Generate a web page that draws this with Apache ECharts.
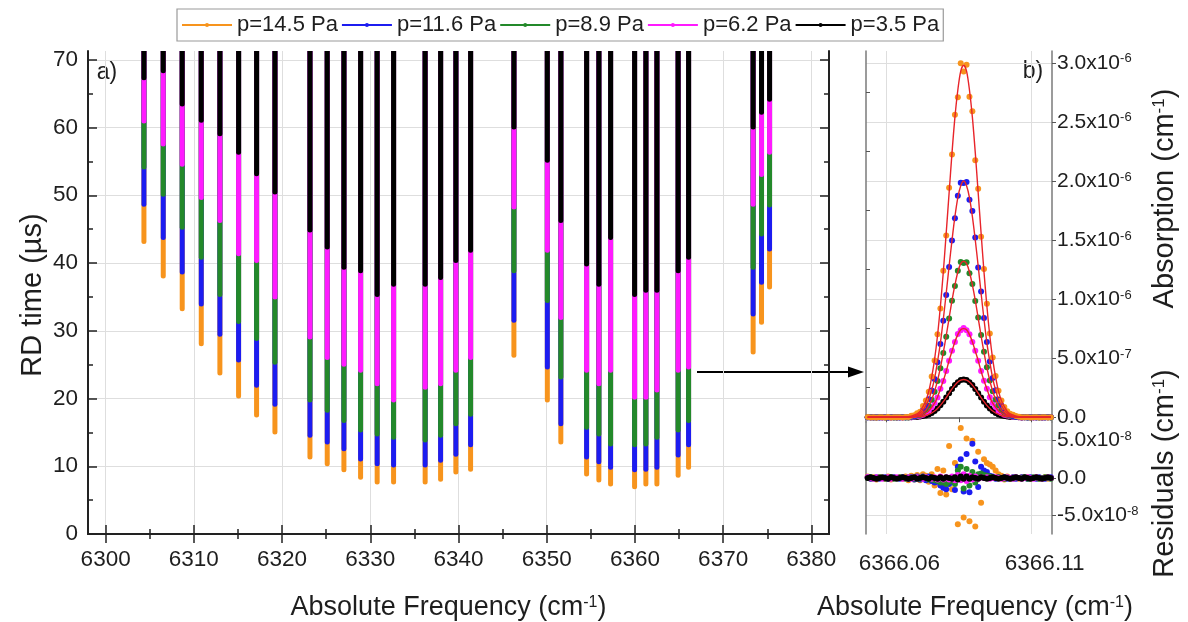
<!DOCTYPE html>
<html><head><meta charset="utf-8">
<script src="https://cdn.jsdelivr.net/npm/echarts@6/dist/echarts.min.js"></script>
<style>html,body{margin:0;padding:0;background:#fff}#c{width:1188px;height:622px}</style>
</head><body><div id="c"></div>
<script>
// ---------- DATA ----------
const pressures = ['p=14.5 Pa', 'p=11.6 Pa', 'p=8.9 Pa', 'p=6.2 Pa', 'p=3.5 Pa'];
const colors = ['#f7941d', '#1c1cf0', '#23892a', '#ff1aff', '#000000'];

// panel a) : line positions (cm-1) and the lowest ring-down time reached at each pressure (us)
const colFreqs = [6304.34, 6306.53, 6308.68, 6310.84, 6312.95, 6315.07, 6317.11, 6319.19, 6323.16, 6325.12, 6327.01, 6328.90, 6330.78, 6332.64, 6336.22, 6337.97, 6339.70, 6341.37, 6346.28, 6350.07, 6351.60, 6354.52, 6355.91, 6357.24, 6359.96, 6361.24, 6362.49, 6364.90, 6366.08, 6373.40, 6374.35, 6375.26];
const minRD_145 = [42.8, 37.7, 32.9, 27.7, 23.4, 20.0, 17.2, 14.7, 11.0, 10.0, 9.1, 8.0, 7.3, 7.3, 7.3, 7.7, 8.8, 9.2, 26.0, 19.4, 13.2, 8.5, 7.6, 7.0, 6.6, 7.0, 7.0, 8.3, 9.5, 26.5, 30.9, 36.1];
const minRD_116 = [48.3, 43.4, 38.3, 33.6, 29.1, 25.3, 21.6, 18.8, 14.2, 13.2, 12.2, 10.7, 10.0, 9.8, 9.8, 10.5, 11.4, 12.8, 31.2, 24.3, 15.9, 11.0, 10.3, 9.5, 9.1, 9.2, 9.5, 11.3, 12.8, 32.1, 36.8, 41.7];
const minRD_89 = [53.8, 49.8, 44.9, 40.5, 35.0, 31.0, 28.5, 25.0, 19.4, 17.9, 16.4, 15.0, 14.4, 13.9, 13.5, 14.2, 15.9, 17.3, 38.5, 34.1, 22.8, 15.4, 14.4, 12.9, 12.8, 12.9, 13.9, 15.0, 16.4, 39.0, 43.9, 48.2];
const minRD_62 = [60.6, 57.2, 54.2, 49.3, 45.9, 41.0, 40.0, 34.6, 28.7, 25.7, 24.7, 23.8, 21.8, 19.4, 21.3, 21.8, 23.8, 25.7, 47.9, 41.5, 31.6, 23.8, 21.8, 23.8, 19.8, 19.8, 20.9, 23.8, 24.3, 48.3, 52.7, 56.0];
const minRD_35 = [67.0, 68.0, 63.1, 60.7, 58.7, 56.0, 52.8, 50.1, 44.5, 42.0, 39.0, 38.5, 35.0, 36.5, 36.5, 37.5, 40.0, 41.5, 59.7, 54.8, 45.9, 39.5, 36.5, 43.4, 35.0, 35.6, 35.6, 38.5, 40.5, 59.7, 61.9, 63.8];
const xTicksMain = [6300, 6310, 6320, 6330, 6340, 6350, 6360, 6370, 6380];
const xTicksMinor = [6305, 6315, 6325, 6335, 6345, 6355, 6365, 6375];
const yTicksMain = [0, 10, 20, 30, 40, 50, 60, 70];
const yTicksMinor = [5, 15, 25, 35, 45, 55, 65];

// panel b) : absorption profile of the 6366.087 cm-1 line (fit, units 1e-6 cm-1) and residuals (units 1e-8 cm-1)
const profFreq = [6366.0536,6366.0546,6366.0556,6366.0566,6366.0576,6366.0586,6366.0596,6366.0606,6366.0616,6366.0626,6366.0636,6366.0646,6366.0656,6366.0666,6366.0676,6366.0686,6366.0696,6366.0706,6366.0716,6366.0726,6366.0736,6366.0746,6366.0756,6366.0766,6366.0776,6366.0786,6366.0796,6366.0806,6366.0816,6366.0826,6366.0836,6366.0846,6366.0856,6366.0866,6366.0876,6366.0886,6366.0896,6366.0906,6366.0916,6366.0926,6366.0936,6366.0946,6366.0956,6366.0966,6366.0976,6366.0986,6366.0996,6366.1006,6366.1016,6366.1026,6366.1036,6366.1046,6366.1056,6366.1066,6366.1076,6366.1086,6366.1096,6366.1106,6366.1116,6366.1126,6366.1136,6366.1146,6366.1156,6366.1166];
const abs_145 = [0,0,0,0,0,0,0,0,0,0,0,0,0,0,0.005,0.01,0.02,0.03,0.05,0.09,0.14,0.22,0.34,0.49,0.69,0.94,1.23,1.56,1.90,2.24,2.54,2.77,2.93,2.98,2.93,2.77,2.54,2.24,1.90,1.56,1.23,0.94,0.69,0.49,0.34,0.22,0.14,0.09,0.05,0.03,0.02,0.01,0.005,0,0,0,0,0,0,0,0,0,0,0];
const abs_116 = [0,0,0,0,0,0,0,0,0,0,0,0,0,0,0.003,0.006,0.01,0.02,0.035,0.06,0.10,0.15,0.23,0.33,0.47,0.63,0.83,1.05,1.28,1.50,1.70,1.86,1.96,2.00,1.96,1.86,1.70,1.50,1.28,1.05,0.83,0.63,0.47,0.33,0.23,0.15,0.10,0.06,0.035,0.02,0.01,0.006,0.003,0,0,0,0,0,0,0,0,0,0,0];
const abs_89 = [0,0,0,0,0,0,0,0,0,0,0,0,0,0,0.002,0.004,0.007,0.013,0.02,0.04,0.06,0.10,0.15,0.22,0.31,0.42,0.55,0.69,0.84,0.99,1.12,1.23,1.30,1.32,1.30,1.23,1.12,0.99,0.84,0.69,0.55,0.42,0.31,0.22,0.15,0.10,0.06,0.04,0.02,0.013,0.007,0.004,0.002,0,0,0,0,0,0,0,0,0,0,0];
const abs_62 = [0,0,0,0,0,0,0,0,0,0,0,0,0,0,0.001,0.002,0.004,0.008,0.013,0.022,0.036,0.056,0.085,0.12,0.17,0.24,0.31,0.39,0.48,0.56,0.64,0.70,0.74,0.75,0.74,0.70,0.64,0.56,0.48,0.39,0.31,0.24,0.17,0.12,0.085,0.056,0.036,0.022,0.013,0.008,0.004,0.002,0.001,0,0,0,0,0,0,0,0,0,0,0];
const abs_35 = [0,0,0,0,0,0,0,0,0,0,0,0,0,0,0,0.001,0.002,0.003,0.006,0.009,0.015,0.024,0.036,0.053,0.075,0.101,0.132,0.167,0.204,0.24,0.272,0.298,0.314,0.32,0.314,0.298,0.272,0.24,0.204,0.167,0.132,0.101,0.075,0.053,0.036,0.024,0.015,0.009,0.006,0.003,0.002,0.001,0,0,0,0,0,0,0,0,0,0,0,0];
const res_145 = [0.2,-0.1,0.1,-0.2,0.1,0,-0.1,0.2,-0.2,0.1,0,0.1,-0.1,0.2,-0.3,0.3,-0.2,0.4,-0.3,0.5,0.3,-0.5,0.5,-1.0,1.2,-2.0,1.0,-2.2,4.3,-1.5,2.0,-6.2,6.7,-5.3,5.3,-5.8,5.0,-6.5,3.5,-3.3,2.5,2.0,1.8,1.5,1.0,0.5,0.3,-0.2,0.2,-0.1,0.1,0,-0.1,0.1,0,0.1,-0.1,0,0.1,-0.1,0,0.1,-0.1,0];
const res_116 = [0.1,-0.1,0,0.1,-0.1,0,0.1,-0.1,0,0.1,0,-0.1,0.1,0,-0.1,0.1,-0.2,0.2,-0.2,0.2,-0.3,0.2,-0.4,-0.6,-0.5,-1.0,-1.3,-1.5,-0.8,-0.3,-1.6,1.5,2.5,-1.8,3.2,-1.9,4.6,2.2,-1.2,1.5,1.0,0.8,0.3,0.2,-0.1,0.1,0,0.1,-0.1,0,0.1,-0.1,0,0.1,0,-0.1,0.1,0,-0.1,0.1,0,-0.1,0,0.1];
const res_89 = [0,0.1,-0.1,0,0.1,0,-0.1,0,0.1,-0.1,0,0.1,0,-0.1,0.1,0,-0.1,0.1,-0.1,0.1,0.1,-0.2,-0.2,-0.3,-0.4,-0.6,-0.6,-0.8,-0.5,-0.3,-0.8,1.0,1.5,-1.4,1.2,-1.0,0.8,-0.6,0.5,0.6,0.4,0.3,0.2,0.1,0,0.1,0,-0.1,0.1,0,-0.1,0.1,0,0,0.1,-0.1,0,0.1,0,-0.1,0,0.1,0,-0.1];
const res_62 = [0.1,0,-0.1,0.1,0,-0.1,0,0.1,-0.1,0,0.1,0,-0.1,0,0.1,-0.1,0,0.1,0,-0.1,0.1,0,-0.1,0.1,-0.2,0.2,-0.2,0.1,-0.2,0.2,-0.3,0.4,-0.3,0.5,-0.4,0.3,-0.2,0.2,-0.1,0.1,0,0.1,-0.1,0,0.1,0,-0.1,0,0.1,0,-0.1,0.1,0,-0.1,0,0.1,0,-0.1,0.1,0,-0.1,0,0.1,0];
const res_35 = [0,0.1,0,-0.1,0,0.1,0,-0.1,0.1,0,-0.1,0,0.1,0,-0.1,0,0.1,-0.1,0,0.1,0,-0.1,0.1,0,-0.1,0.1,-0.1,0.1,0,-0.1,0.1,-0.2,0.2,-0.1,0.2,-0.1,0.1,0,-0.1,0.1,0,-0.1,0,0.1,0,-0.1,0,0.1,0,-0.1,0,0.1,0,-0.1,0.1,0,-0.1,0,0.1,0,-0.1,0,0.1,0];
const absTicks = [0, 0.5, 1, 1.5, 2, 2.5, 3];
const absMinorTicks = [0.25, 0.75, 1.25, 1.75, 2.25, 2.75];
const resTicks = [-5, 0, 5];
const zoomFreqTicks = [6366.06, 6366.11];
const zoomFreqTopTicks = [6366.06, 6366.085, 6366.11];

// ---------- CHART ----------
const FONT = 'Liberation Sans, Arial, Helvetica, sans-serif';
const TXT = '#1e1e1e';
const RD_MAX = 71.3;
const minSets = [minRD_145, minRD_116, minRD_89, minRD_62, minRD_35];
const absSets = [abs_145, abs_116, abs_89, abs_62, abs_35];
const resSets = [res_145, res_116, res_89, res_62, res_35];

const chart = echarts.init(document.getElementById('c'), null, {renderer: 'canvas'});

function colRender(color) {
  return function (params, api) {
    const f = api.value(0), lo = api.value(1);
    const pLo = api.coord([f, lo]);
    const pHi = api.coord([f, RD_MAX]);
    const w = 5;
    return {
      type: 'rect',
      shape: {x: pLo[0] - w / 2, y: pHi[1], width: w, height: pLo[1] - pHi[1], r: [0, 0, 2.5, 2.5]},
      style: {fill: color}
    };
  };
}

const darkLine = {lineStyle: {color: '#222', width: 2}};
const grayLine = {lineStyle: {color: '#7a7a7a', width: 1.5}};
const split = {show: true, lineStyle: {color: '#dedede', width: 1}};
const noSplit = {show: false};
const supRich = {
  b: {fontSize: 21, color: TXT, fontFamily: FONT},
  s: {fontSize: 13, color: TXT, fontFamily: FONT, verticalAlign: 'top'}
};

function leftX(pos, ticks, len, main) {
  return {
    gridIndex: 0, type: 'value', position: pos, min: 6298, max: 6382,
    axisLine: main ? darkLine : {show: false},
    axisTick: {show: true, inside: true, length: len, customValues: ticks, lineStyle: {color: '#222', width: 1.5}},
    axisLabel: (main && pos === 'bottom') ? {customValues: ticks, fontSize: 22.5, margin: 14, color: TXT, fontFamily: FONT, formatter: v => String(Math.round(v))} : {show: false},
    splitLine: (main && pos === 'bottom') ? split : noSplit
  };
}
function leftY(pos, ticks, len, main) {
  return {
    gridIndex: 0, type: 'value', position: pos, min: 0, max: RD_MAX,
    axisLine: main ? darkLine : {show: false},
    axisTick: {show: true, inside: true, length: len, customValues: ticks, lineStyle: {color: '#222', width: 1.5}},
    axisLabel: (main && pos === 'left') ? {customValues: ticks, fontSize: 22.5, margin: 10, color: TXT, fontFamily: FONT, formatter: v => String(Math.round(v))} : {show: false},
    splitLine: (main && pos === 'left') ? split : noSplit
  };
}

const xAxes = [
  leftX('bottom', xTicksMain, 9, true),
  leftX('bottom', xTicksMinor, 5, false),
  leftX('top', xTicksMain, 9, true),
  leftX('top', xTicksMinor, 5, false),
  // panel b upper
  {gridIndex: 1, type: 'value', position: 'bottom', min: 6366.053, max: 6366.117, axisLine: grayLine,
   axisTick: {show: false, customValues: zoomFreqTicks}, axisLabel: {show: false}, splitLine: split},
  {gridIndex: 1, type: 'value', position: 'top', min: 6366.053, max: 6366.117, axisLine: grayLine,
   axisTick: {show: true, inside: true, length: 5, customValues: zoomFreqTopTicks, lineStyle: {color: '#555'}}, axisLabel: {show: false}, splitLine: noSplit},
  // panel b residuals
  {gridIndex: 2, type: 'value', position: 'bottom', min: 6366.053, max: 6366.117, axisLine: grayLine,
   axisTick: {show: false, customValues: zoomFreqTicks},
   axisLabel: {customValues: zoomFreqTicks, fontSize: 22.5, margin: 18, color: TXT, fontFamily: FONT, padding: [0, 0, 0, 26],
     formatter: v => v.toFixed(2)},
   splitLine: split},
  {gridIndex: 2, type: 'value', position: 'top', min: 6366.053, max: 6366.117, axisLine: grayLine,
   axisTick: {show: false}, axisLabel: {show: false}, splitLine: noSplit}
];

const yAxes = [
  leftY('left', yTicksMain, 9, true),
  leftY('left', yTicksMinor, 5, false),
  leftY('right', yTicksMain, 9, true),
  leftY('right', yTicksMinor, 5, false),
  // absorption (units 1e-6)
  {gridIndex: 1, type: 'value', position: 'right', min: -0.04, max: 3.1, axisLine: grayLine,
   axisTick: {show: true, inside: false, length: 4, customValues: absTicks, lineStyle: {color: '#555'}},
   axisLabel: {customValues: absTicks, margin: 5, rich: supRich,
     formatter: v => {
       if (Math.abs(v) < 1e-9) return '{b|0.0}';
       if (v < 0.99) return '{b|' + (v * 10).toFixed(1) + 'x10}{s|-7}';
       return '{b|' + v.toFixed(1) + 'x10}{s|-6}';
     }},
   splitLine: split},
  {gridIndex: 1, type: 'value', position: 'left', min: -0.04, max: 3.1, axisLine: grayLine,
   axisTick: {show: true, inside: true, length: 4, customValues: absMinorTicks, lineStyle: {color: '#555'}},
   axisLabel: {show: false}, splitLine: noSplit},
  // residuals (units 1e-8)
  {gridIndex: 2, type: 'value', position: 'right', min: -7.5, max: 7.5, axisLine: grayLine,
   axisTick: {show: true, inside: false, length: 4, customValues: resTicks, lineStyle: {color: '#555'}},
   axisLabel: {customValues: resTicks, margin: 5, rich: supRich,
     formatter: v => {
       if (Math.abs(v) < 1e-9) return '{b|0.0}';
       return '{b|' + v.toFixed(1) + 'x10}{s|-8}';
     }},
   splitLine: split},
  {gridIndex: 2, type: 'value', position: 'left', min: -7.5, max: 7.5, axisLine: grayLine,
   axisTick: {show: false}, axisLabel: {show: false}, splitLine: noSplit}
];

const series = [];
// legend carriers
pressures.forEach((p, k) => {
  series.push({type: 'line', name: p, xAxisIndex: 0, yAxisIndex: 0, data: [], symbol: 'circle',
    itemStyle: {color: colors[k]}, lineStyle: {color: colors[k], width: 1.2}});
});
// panel a columns
pressures.forEach((p, k) => {
  series.push({type: 'custom', name: 'RD ' + p, xAxisIndex: 0, yAxisIndex: 0, clip: true,
    renderItem: colRender(colors[k]),
    data: colFreqs.map((f, i) => [f, minSets[k][i]])});
});
// panel b absorption points (drawn low pressure first)
[4, 3, 2, 1, 0].forEach(k => {
  series.push({type: 'scatter', name: 'abs ' + pressures[k], xAxisIndex: 4, yAxisIndex: 4, symbolSize: 6,
    itemStyle: {color: colors[k], opacity: 1},
    data: profFreq.map((f, i) => [f, absSets[k][i] + resSets[k][i] / 100])});
});
// fits
[4, 3, 2, 1, 0].forEach(k => {
  series.push({type: 'line', name: 'fit ' + pressures[k], xAxisIndex: 4, yAxisIndex: 4, showSymbol: false, symbol: 'none',
    smooth: 0.3, lineStyle: {color: '#e8242a', width: 1.4},
    data: profFreq.map((f, i) => [f, absSets[k][i]])});
});
// residuals
[0, 1, 2, 3, 4].forEach(k => {
  series.push({type: 'scatter', name: 'res ' + pressures[k], xAxisIndex: 6, yAxisIndex: 6, symbolSize: 6,
    itemStyle: {color: colors[k], opacity: 1},
    data: profFreq.map((f, i) => [f, resSets[k][i]])});
});

const titleRich = {
  a: {fontSize: 27, fontFamily: FONT, fill: TXT},
  s: {fontSize: 16, fontFamily: FONT, fill: TXT, verticalAlign: 'top'}
};
const vRich = {
  a: {fontSize: 29, fontFamily: FONT, fill: TXT},
  s: {fontSize: 17, fontFamily: FONT, fill: TXT, verticalAlign: 'top'}
};

const option = {
  animation: false,
  backgroundColor: '#ffffff',
  textStyle: {fontFamily: FONT},
  grid: [
    {left: 88, top: 51, width: 741, height: 483, outerBoundsMode: 'none'},
    {left: 866, top: 51, width: 186, height: 371, outerBoundsMode: 'none'},
    {left: 866, top: 422, width: 186, height: 112, outerBoundsMode: 'none'}
  ],
  legend: {
    data: pressures, left: 177, top: 9, orient: 'horizontal', selectedMode: false,
    itemWidth: 50, itemHeight: 5, itemGap: 3, padding: [5, 4],
    borderColor: '#9a9a9a', borderWidth: 1.2,
    textStyle: {fontSize: 22, color: TXT, fontFamily: FONT}
  },
  xAxis: xAxes,
  yAxis: yAxes,
  series: series,
  graphic: [
    {type: 'text', x: 32.5, y: 295, rotation: Math.PI / 2,
     style: {text: 'RD time (\u00b5s)', fontSize: 29, fontFamily: FONT, fill: TXT, align: 'center', verticalAlign: 'middle'}},
    {type: 'text', x: 448.5, y: 608,
     style: {text: '{a|Absolute Frequency (cm}{s|-1}{a|)}', rich: titleRich, align: 'center', verticalAlign: 'middle'}},
    {type: 'text', x: 975, y: 608,
     style: {text: '{a|Absolute Frequency (cm}{s|-1}{a|)}', rich: titleRich, align: 'center', verticalAlign: 'middle'}},
    {type: 'text', x: 1165, y: 198.5, rotation: Math.PI / 2,
     style: {text: '{a|Absorption (cm}{s|-1}{a|)}', rich: vRich, align: 'center', verticalAlign: 'middle'}},
    {type: 'text', x: 1165, y: 473.5, rotation: Math.PI / 2,
     style: {text: '{a|Residuals (cm}{s|-1}{a|)}', rich: vRich, align: 'center', verticalAlign: 'middle'}},
    {type: 'text', x: 107, y: 73,
     style: {text: 'a)', fontSize: 23, fontFamily: FONT, fill: TXT, align: 'center', verticalAlign: 'middle'}},
    {type: 'text', x: 1033, y: 72,
     style: {text: 'b)', fontSize: 23, fontFamily: FONT, fill: TXT, align: 'center', verticalAlign: 'middle'}},
    {type: 'line', shape: {x1: 697, y1: 372, x2: 852, y2: 372}, style: {stroke: '#000', lineWidth: 2}},
    {type: 'polygon', shape: {points: [[848, 366.5], [864, 372], [848, 377.5]]}, style: {fill: '#000'}}
  ]
};
chart.setOption(option);
</script>
</body></html>
